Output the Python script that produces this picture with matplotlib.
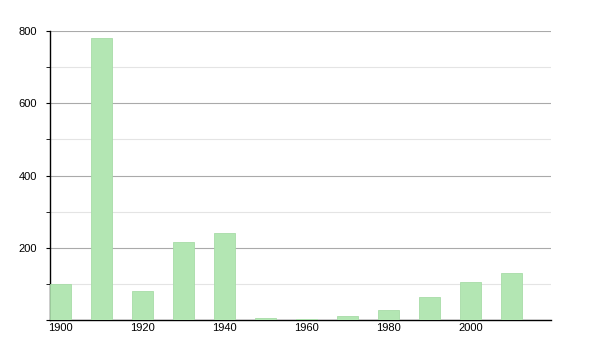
import matplotlib
matplotlib.use("Agg")
import matplotlib.pyplot as plt
from matplotlib.ticker import MultipleLocator, FuncFormatter

years = [1900, 1910, 1920, 1930, 1940, 1950, 1960, 1970, 1980, 1990, 2000, 2010]
population = [100, 782, 80, 216, 240, 5, 3, 11, 28, 63, 105, 130]
xticks = [1900, 1920, 1940, 1960, 1980, 2000]

plt.rcParams['font.family'] = ['Liberation Sans', 'DejaVu Sans']

fig = plt.figure(figsize=(6, 3.5), dpi=100)
ax = fig.add_axes([0.083, 0.086, 0.835, 0.825])

ax.bar(years, population, width=5.1, color='#b3e6b3', edgecolor='#a8dca8', linewidth=0.6, zorder=3)

ax.set_xlim(1897.5, 2019.6)
ax.set_ylim(0, 800)
ax.yaxis.set_major_locator(MultipleLocator(200))
ax.yaxis.set_minor_locator(MultipleLocator(100))
# the zero label is left out, as in the original
ax.yaxis.set_major_formatter(FuncFormatter(lambda v, p: '' if v == 0 else '%d' % v))
ax.set_xticks(xticks)
ax.set_xticklabels([str(y) for y in xticks])

ax.grid(axis='y', which='major', color='#aaaaaa', linewidth=0.8, zorder=0)
ax.grid(axis='y', which='minor', color='#e4e4e4', linewidth=0.8, zorder=0)

for side in ['top', 'right']:
    ax.spines[side].set_visible(False)
ax.spines['left'].set_linewidth(1.0)
ax.spines['bottom'].set_linewidth(1.0)

ax.tick_params(axis='y', which='major', length=3, labelsize=8, pad=6)
ax.tick_params(axis='y', which='minor', length=3)
ax.tick_params(axis='x', length=0, labelsize=8, pad=2)

fig.savefig('out.png', dpi=100)
